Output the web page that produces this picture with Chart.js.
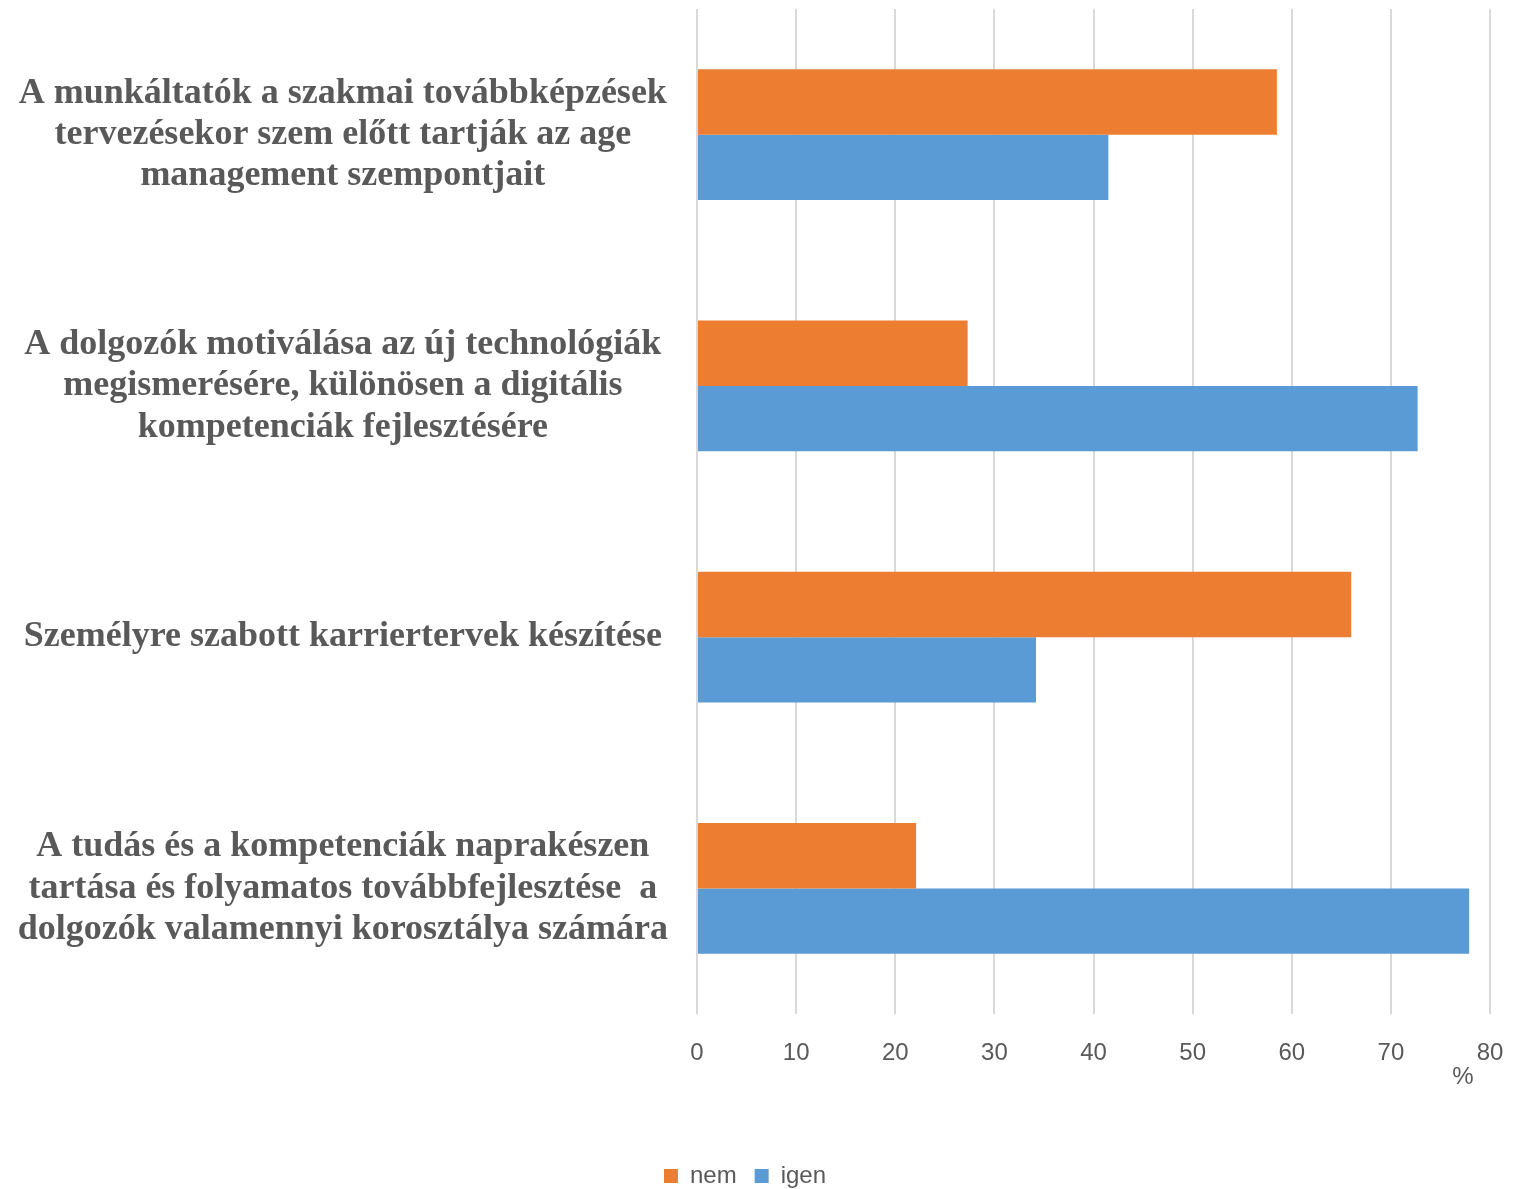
<html lang="hu">
<head>
    <meta charset="UTF-8">
    <title>Age management</title>
    <script src="https://cdn.jsdelivr.net/npm/chart.js@4"></script>
    <style>
        html, body { margin: 0; padding: 0; background: #fff; }
        #wrap { width: 1517px; height: 1189px; }
    </style>
</head>
<body>
    <div id="wrap"><canvas id="graph"></canvas></div>

    <script>
        const categories = [
            ['A munkáltatók a szakmai továbbképzések', 'tervezésekor szem előtt tartják az age', 'management szempontjait'],
            ['A dolgozók motiválása az új technológiák', 'megismerésére, különösen a digitális', 'kompetenciák fejlesztésére'],
            ['Személyre szabott karriertervek készítése'],
            ['A tudás és a kompetenciák naprakészen', 'tartása és folyamatos továbbfejlesztése  a', 'dolgozók valamennyi korosztálya számára']
        ];
        const nemValues = [58.5, 27.3, 66.0, 22.1];
        const igenValues = [41.5, 72.7, 34.2, 77.9];
        const xTicks = [0, 10, 20, 30, 40, 50, 60, 70, 80];

        const grey = '#595959';
        const sansNarrow = '"Liberation Sans Narrow", "Liberation Sans", sans-serif';

        // the "%" unit under the right end of the x axis
        const percentLabel = {
            id: 'percentLabel',
            afterDraw(chart) {
                const ctx = chart.ctx;
                const x = chart.scales.x;
                ctx.save();
                ctx.font = '24px ' + sansNarrow;
                ctx.fillStyle = grey;
                ctx.textAlign = 'center';
                ctx.textBaseline = 'middle';
                ctx.fillText('%', x.right - 27, x.top + 63);
                ctx.restore();
            }
        };

        const ctx = document.getElementById('graph').getContext('2d');
        new Chart(ctx, {
            type: 'bar',
            data: {
                labels: categories,
                datasets: [
                    { label: 'nem', data: nemValues, backgroundColor: '#ED7D31' },
                    { label: 'igen', data: igenValues, backgroundColor: '#5B9BD5' }
                ]
            },
            options: {
                indexAxis: 'y',
                responsive: true,
                maintainAspectRatio: false,
                animation: false,
                categoryPercentage: 0.52,
                barPercentage: 1.0,
                layout: { padding: { top: 9, right: 27, bottom: -9, left: 0 } },
                plugins: {
                    tooltip: { enabled: false },
                    legend: {
                        position: 'bottom',
                        labels: {
                            boxWidth: 14,
                            boxHeight: 14,
                            padding: 18,
                            color: grey,
                            font: { family: sansNarrow, size: 24 }
                        }
                    }
                },
                scales: {
                    x: {
                        min: 0,
                        max: 80,
                        afterBuildTicks: (s) => { s.ticks = xTicks.map(v => ({ value: v })); },
                        afterFit: (s) => {
                            s.height = 132;
                            s.paddingLeft = 0;
                            s.paddingRight = 0;
                        },
                        grid: { color: '#d9d9d9', lineWidth: 2, drawTicks: false },
                        border: { display: false },
                        ticks: {
                            padding: 25,
                            color: grey,
                            font: { family: sansNarrow, size: 24 }
                        }
                    },
                    y: {
                        afterFit: (s) => {
                            s.width = 697;
                            s.paddingTop = 0;
                            s.paddingBottom = 0;
                        },
                        grid: { display: false, drawTicks: false },
                        border: { display: false },
                        ticks: {
                            crossAlign: 'center',
                            padding: 29,
                            color: grey,
                            font: { family: '"Liberation Serif", "Times New Roman", serif', size: 36, weight: 'bold', lineHeight: 1.15 }
                        }
                    }
                }
            },
            plugins: [percentLabel]
        });
    </script>
</body>
</html>
